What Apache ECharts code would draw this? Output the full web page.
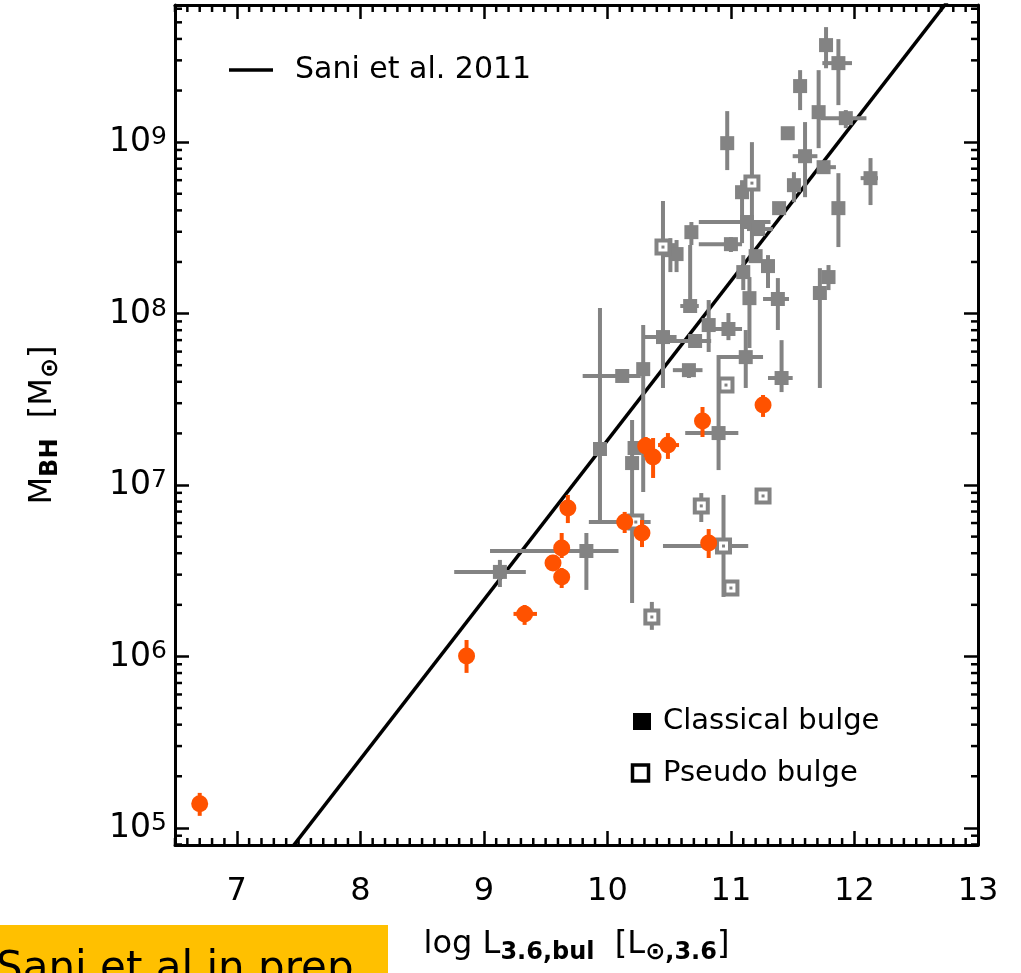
<!DOCTYPE html>
<html>
<head>
<meta charset="utf-8">
<script src="https://cdn.jsdelivr.net/npm/echarts@6/dist/echarts.min.js"></script>
<style>
  html, body { margin: 0; padding: 0; background: #fff; }
  #chart { width: 1021px; height: 973px; }
</style>
</head>
<body>
<div id="chart"></div>
<script>
// Axis ranges: log L_3.6,bul on x, log M_BH on y
const X_MIN = 6.5, X_MAX = 13;
const Y_MIN = 4.9, Y_MAX = 9.8;
const xTickLabels = [7, 8, 9, 10, 11, 12, 13];
const yTickLabels = [5, 6, 7, 8, 9];

// Sani et al. 2011 relation: log M = A + B (log L - 11)
const SANI_A = 8.19, SANI_B = 0.93;

// Classical bulges (filled gray squares); null = no error bar on that side
const classicalLogL  = [11.77, 11.87, 11.56, 11.71, 11.93, 11.46, 11.60, 11.75, 11.51, 12.13, 10.97, 11.87, 11.09, 11.39, 11.13, 11.22, 10.68, 10.67, 10.51, 10.56, 11.00, 11.20, 11.10, 11.30, 11.79, 11.72, 11.15, 11.38, 10.82, 10.98, 10.45, 10.71, 10.66, 10.29, 10.12, 11.12, 11.41, 10.90, 9.94, 10.20, 10.22, 9.83, 9.13];
const classicalLogM  = [9.566, 9.461, 9.327, 9.175, 9.140, 9.052, 8.918, 8.854, 8.749, 8.790, 8.994, 8.615, 8.708, 8.615, 8.534, 8.493, 8.475, 8.044, 8.370, 8.347, 8.405, 8.335, 8.242, 8.277, 8.213, 8.120, 8.090, 8.085, 7.933, 7.910, 7.863, 7.840, 7.670, 7.676, 7.636, 7.746, 7.624, 7.303, 7.210, 7.128, 7.216, 6.615, 6.493];
const classicalLLo   = [null, 11.74, null, null, 11.725, null, 11.50, 11.70, null, 12.05, null, null, null, null, 10.74, 11.13, null, 10.59, null, null, 10.74, null, null, null, null, null, null, 11.26, null, 10.85, 10.28, 10.50, 10.53, null, 9.80, 10.90, 11.30, 10.63, null, null, null, 9.05, 8.76];
const classicalLHi   = [null, 11.98, null, null, 12.097, null, 11.70, 11.85, null, 12.19, null, null, null, null, 11.32, 11.34, null, 10.74, null, null, 11.09, null, null, null, null, null, null, 11.47, null, 11.09, 10.56, 10.84, 10.77, null, 10.27, 11.26, 11.50, 11.06, null, null, null, 10.09, 9.34];
const classicalMLo   = [9.431, 9.216, 9.187, 8.965, 9.082, null, 8.679, null, 8.650, 8.633, 8.837, 8.388, 8.411, null, null, null, 8.400, 8.009, 8.242, 8.242, 8.359, null, 8.137, 8.149, 8.137, 7.566, 7.799, 7.904, 7.776, 7.845, null, null, 7.624, 6.959, null, 7.566, 7.542, 7.087, 6.778, 6.312, null, 6.388, 6.405];
const classicalMHi   = [9.671, 9.601, 9.420, 9.420, 9.187, null, 9.117, null, 8.825, 8.907, 9.181, 8.819, 8.778, null, null, null, 8.534, 8.400, 8.440, 8.429, 8.446, null, 8.341, 8.341, 8.283, 8.265, 8.213, 8.207, 8.079, 8.003, null, null, 7.706, 7.933, null, 7.904, 7.845, 7.758, 8.032, 7.379, null, 6.720, 6.563];

// Pseudo bulges (open gray squares)
const pseudoLogL = [11.17, 10.45, 10.96, 10.23, 11.26, 10.76, 10.94, 11.00, 10.36];
const pseudoLogM = [8.761, 8.388, 7.583, 6.784, 6.936, 6.878, 6.644, 6.399, 6.230];
const pseudoLLo  = [null, null, null, 9.85, null, null, 10.45, null, null];
const pseudoLHi  = [null, null, null, 10.35, null, null, 11.14, null, null];
const pseudoMLo  = [8.312, 7.566, null, null, null, 6.784, 6.347, null, 6.155];
const pseudoMHi  = [9.000, 8.656, null, null, null, 6.953, 6.942, null, 6.318];

// New sample (orange circles)
const newLogL = [6.70, 8.86, 9.33, 9.68, 9.63, 9.56, 9.63, 10.14, 10.28, 10.31, 10.37, 10.49, 10.77, 11.26, 10.82];
const newLogM = [5.140, 6.003, 6.248, 6.866, 6.633, 6.545, 6.464, 6.784, 6.720, 7.227, 7.163, 7.233, 7.373, 7.466, 6.662];
const newLLo  = [null, null, 9.24, null, null, null, null, null, null, null, null, 10.41, null, null, null];
const newLHi  = [null, null, 9.43, null, null, null, null, null, null, null, null, 10.58, null, null, null];
const newMLo  = [5.070, 5.904, 6.184, 6.778, 6.574, 6.499, 6.399, 6.720, 6.638, 7.163, 7.041, 7.152, 7.280, 7.397, 6.574];
const newMHi  = [5.204, 6.096, 6.300, 6.942, 6.720, 6.592, 6.516, 6.843, 6.796, 7.280, 7.274, 7.303, 7.455, 7.525, 6.743];

const GRAY = '#838383';
const ORANGE = '#ff5200';
const FONT = "'DejaVu Sans', sans-serif";

// minor tick positions: every 0.1 dex in L, 2..9 x 10^n in M
const xMinorTicks = [];
for (let i = Math.round(X_MIN * 10); i <= Math.round(X_MAX * 10); i++) {
  if (i % 10 !== 0) xMinorTicks.push(i / 10);
}
const yMinorTicks = [];
for (let n = 4; n <= 9; n++) {
  for (let k = 2; k <= 9; k++) {
    const v = n + Math.log10(k);
    if (v > Y_MIN && v < Y_MAX) yMinorTicks.push(v);
  }
}

function makeSet(x, y, xlo, xhi, ylo, yhi) {
  return { x, y, xlo, xhi, ylo, yhi };
}
const classical = makeSet(classicalLogL, classicalLogM, classicalLLo, classicalLHi, classicalMLo, classicalMHi);
const pseudo = makeSet(pseudoLogL, pseudoLogM, pseudoLLo, pseudoLHi, pseudoMLo, pseudoMHi);
const newSample = makeSet(newLogL, newLogM, newLLo, newLHi, newMLo, newMHi);

function errorBarSeries(set, color, z) {
  return {
    type: 'custom',
    z: z,
    silent: true,
    data: set.x.map((v, i) => [v, set.y[i]]),
    renderItem: function (params, api) {
      const i = params.dataIndex;
      const kids = [];
      const style = { stroke: color, lineWidth: 4 };
      if (set.xlo[i] != null) {
        const a = api.coord([set.xlo[i], set.y[i]]);
        const b = api.coord([set.xhi[i], set.y[i]]);
        kids.push({ type: 'line', shape: { x1: a[0], y1: a[1], x2: b[0], y2: b[1] }, style });
      }
      if (set.ylo[i] != null) {
        const a = api.coord([set.x[i], set.ylo[i]]);
        const b = api.coord([set.x[i], set.yhi[i]]);
        kids.push({ type: 'line', shape: { x1: a[0], y1: a[1], x2: b[0], y2: b[1] }, style });
      }
      return { type: 'group', children: kids };
    }
  };
}

function minorTickSeries(values, dim) {
  return {
    type: 'custom',
    z: 20,
    silent: true,
    clip: false,
    data: values.map(v => [v]),
    renderItem: function (params, api) {
      const v = api.value(0);
      const len = 7;
      const style = { stroke: '#000', lineWidth: 2.5 };
      if (dim === 'x') {
        const b = api.coord([v, Y_MIN]);
        const t = api.coord([v, Y_MAX]);
        return { type: 'group', children: [
          { type: 'line', shape: { x1: b[0], y1: b[1], x2: b[0], y2: b[1] - len }, style },
          { type: 'line', shape: { x1: t[0], y1: t[1], x2: t[0], y2: t[1] + len }, style }
        ] };
      }
      const l = api.coord([X_MIN, v]);
      const r = api.coord([X_MAX, v]);
      return { type: 'group', children: [
        { type: 'line', shape: { x1: l[0], y1: l[1], x2: l[0] + len, y2: l[1] }, style },
        { type: 'line', shape: { x1: r[0], y1: r[1], x2: r[0] - len, y2: r[1] }, style }
      ] };
    }
  };
}

const axisLine = { show: true, onZero: false, lineStyle: { color: '#000', width: 3 } };
const majorTick = { show: true, inside: true, length: 14, lineStyle: { color: '#000', width: 2.5 } };

function xLabel(v) {
  return xTickLabels.some(t => Math.abs(t - v) < 1e-6) ? String(Math.round(v)) : '';
}
function yLabel(v) {
  const n = Math.round(v);
  if (Math.abs(v - n) > 1e-6 || yTickLabels.indexOf(n) < 0) return '';
  return '{b|10}{s|' + n + '}';
}

const titleRich = {
  m: { fontSize: 32, fontFamily: FONT, color: '#000', lineHeight: 36, verticalAlign: 'top' },
  sb: { fontSize: 24, fontFamily: FONT, fontWeight: 'bold', color: '#000', lineHeight: 27, verticalAlign: 'bottom', padding: [14, 0, 0, 0] }
};

const chart = echarts.init(document.getElementById('chart'), null, { renderer: 'canvas' });

chart.setOption({
  animation: false,
  backgroundColor: '#fff',
  grid: { left: 175, right: 43, top: 5, bottom: 128, containLabel: false },
  xAxis: [
    {
      type: 'value', min: X_MIN, max: X_MAX, splitNumber: 6, position: 'bottom',
      axisLine, axisTick: majorTick, splitLine: { show: false },
      axisLabel: { margin: 31, color: '#000', fontSize: 32, fontFamily: FONT, formatter: xLabel },
      name: '{m|log L}{sb|3.6,bul}{m|  [L}{sb|\u2299,3.6}{m|]}',
      nameLocation: 'middle', nameGap: 84,
      nameTextStyle: { rich: titleRich }
    },
    {
      type: 'value', min: X_MIN, max: X_MAX, splitNumber: 6, position: 'top',
      axisLine, axisTick: majorTick, splitLine: { show: false }, axisLabel: { show: false }
    }
  ],
  yAxis: [
    {
      type: 'value', min: Y_MIN, max: Y_MAX, splitNumber: 5, position: 'left',
      axisLine, axisTick: majorTick, splitLine: { show: false },
      axisLabel: {
        margin: 8, formatter: yLabel,
        rich: {
          b: { fontSize: 33, fontFamily: FONT, color: '#000', lineHeight: 34, verticalAlign: 'bottom', padding: [10, 0, 0, 0] },
          s: { fontSize: 25, fontFamily: FONT, color: '#000', lineHeight: 25, verticalAlign: 'top' }
        }
      },
      name: '{m|M}{sb|BH}{m|  [M}{sb|\u2299}{m|]}',
      nameLocation: 'middle', nameGap: 112, nameRotate: 90,
      nameTextStyle: { rich: titleRich }
    },
    {
      type: 'value', min: Y_MIN, max: Y_MAX, splitNumber: 5, position: 'right',
      axisLine, axisTick: majorTick, splitLine: { show: false }, axisLabel: { show: false }
    }
  ],
  series: [
    {
      name: 'Sani et al. 2011',
      type: 'line', z: 1, silent: true, symbol: 'none', clip: true,
      lineStyle: { color: '#000', width: 3.5 },
      data: [X_MIN, X_MAX].map(x => [x, SANI_A + SANI_B * (x - 11)])
    },
    errorBarSeries(classical, GRAY, 2),
    errorBarSeries(pseudo, GRAY, 2),
    {
      name: 'Classical bulge', type: 'scatter', z: 3, silent: true,
      symbol: 'rect', symbolSize: 14,
      itemStyle: { color: GRAY, opacity: 1 },
      data: classical.x.map((v, i) => [v, classical.y[i]])
    },
    {
      name: 'Pseudo bulge', type: 'scatter', z: 3, silent: true,
      symbol: 'rect', symbolSize: 13,
      itemStyle: { color: '#fff', borderColor: GRAY, borderWidth: 4, opacity: 1 },
      data: pseudo.x.map((v, i) => [v, pseudo.y[i]])
    },
    {
      type: 'scatter', z: 4, silent: true,
      symbol: 'rect', symbolSize: 3,
      itemStyle: { color: GRAY, opacity: 1 },
      data: pseudo.x.map((v, i) => [v, pseudo.y[i]])
    },
    errorBarSeries(newSample, ORANGE, 5),
    {
      name: 'This work', type: 'scatter', z: 6, silent: true,
      symbol: 'circle', symbolSize: 17,
      itemStyle: { color: ORANGE, opacity: 1 },
      data: newSample.x.map((v, i) => [v, newSample.y[i]])
    },
    minorTickSeries(xMinorTicks, 'x'),
    minorTickSeries(yMinorTicks, 'y')
  ],
  graphic: [
    { type: 'line', shape: { x1: 229, y1: 70, x2: 273, y2: 70 }, style: { stroke: '#000', lineWidth: 3.5 }, z: 10 },
    { type: 'text', x: 295, y: 70, z: 10, style: { text: 'Sani et al. 2011', font: '30px ' + FONT, fill: '#000', verticalAlign: 'middle' } },
    { type: 'rect', shape: { x: 633, y: 713, width: 18, height: 17 }, style: { fill: '#000' }, z: 10 },
    { type: 'text', x: 663, y: 721, z: 10, style: { text: 'Classical bulge', font: '29px ' + FONT, fill: '#000', verticalAlign: 'middle' } },
    { type: 'rect', shape: { x: 632.5, y: 765, width: 16, height: 16 }, style: { fill: 'none', stroke: '#000', lineWidth: 3.5 }, z: 10 },
    { type: 'text', x: 663, y: 773, z: 10, style: { text: 'Pseudo bulge', font: '29px ' + FONT, fill: '#000', verticalAlign: 'middle' } },
    { type: 'rect', shape: { x: 0, y: 925, width: 388, height: 48 }, style: { fill: '#ffc000' }, z: 10 },
    { type: 'text', x: -4, y: 949, z: 11, style: { text: 'Sani et al in prep', font: '42px ' + FONT, fill: '#000', verticalAlign: 'top' } }
  ]
});
</script>
</body>
</html>
